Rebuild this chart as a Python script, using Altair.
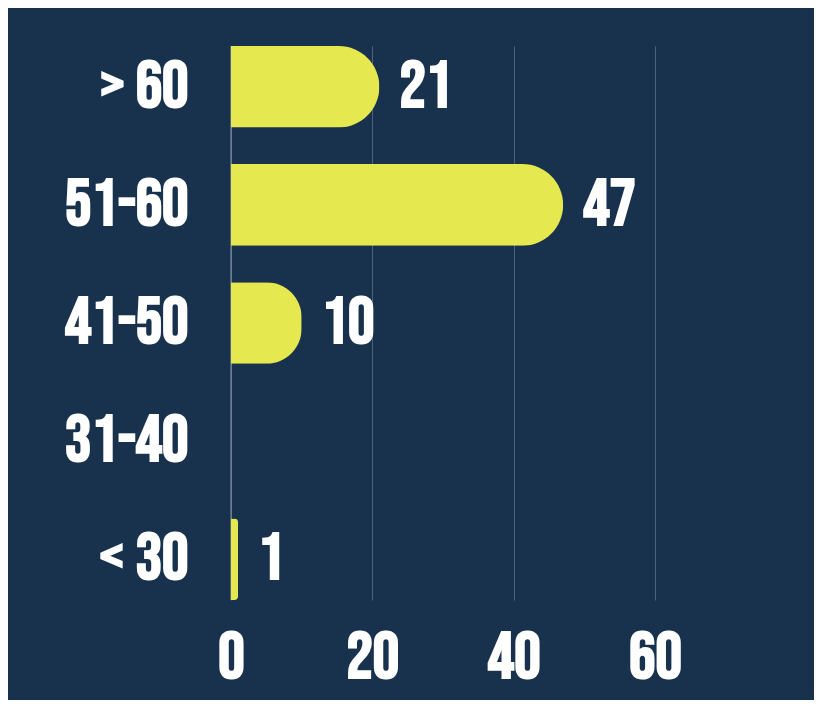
import altair as alt
import pandas as pd

categories = ["> 60", "51-60", "41-50", "31-40", "< 30"]
counts = [21, 47, 10, 0, 1]
x_ticks = [0, 20, 40, 60]

df = pd.DataFrame({"age": categories, "count": counts})
df["label"] = [str(c) if c > 0 else "" for c in counts]

NAVY = "#18324d"
YELLOW = "#e5e84e"
FONT = "Bebas Neue"
FS = 66

xscale = alt.Scale(domain=[0, 82.5], nice=False)
x = alt.X("count:Q", scale=xscale,
          axis=alt.Axis(values=x_ticks, title=None, grid=True, gridColor="#4e627a",
                        gridWidth=1, domain=False, ticks=False, labelFlush=False,
                        labelFont=FONT, labelFontWeight="bold", labelFontSize=FS,
                        labelColor="white", labelPadding=25))
y = alt.Y("age:N", sort=categories,
          scale=alt.Scale(paddingInner=0.31, paddingOuter=0),
          axis=alt.Axis(title=None, domain=False, ticks=False,
                        labelFont=FONT, labelFontWeight="bold", labelFontSize=FS,
                        labelColor="white", labelPadding=43))

bars = alt.Chart(df).mark_bar(color=YELLOW, cornerRadiusEnd=41).encode(x=x, y=y)

zero = alt.Chart(pd.DataFrame({"z": [0]})).mark_rule(color="#8a98a8", strokeWidth=1).encode(
    x=alt.X("z:Q", scale=xscale))

labels = alt.Chart(df).mark_text(
    align="left", baseline="middle", dx=20, dy=0, font=FONT, fontWeight="bold",
    fontSize=FS, color="white").encode(x="count:Q", y=alt.Y("age:N", sort=categories), text="label:N")

chart = alt.layer(zero, bars, labels).properties(
    width=583, height=554, background=NAVY,
    padding={"left": 56, "top": 37, "right": 0, "bottom": 10}
).configure_view(stroke=None)

chart.save("out.html", embed_options={"renderer": "svg", "actions": False})
